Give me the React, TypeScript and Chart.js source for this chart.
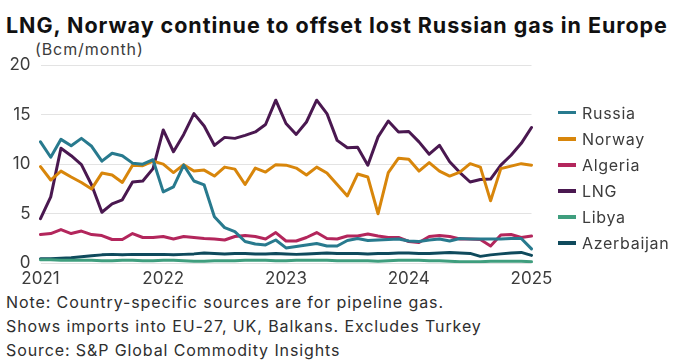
import React, { useEffect, useRef } from "react";
import { Chart, registerables } from "chart.js";

Chart.register(...registerables);

const yearLabels = ["2021", "2022", "2023", "2024", "2025"];
const monthNames = ["Jan", "Feb", "Mar", "Apr", "May", "Jun", "Jul", "Aug", "Sep", "Oct", "Nov", "Dec"];
const categories: string[] = [];
yearLabels.forEach((y, yi) => {
  monthNames.forEach((m, mi) => {
    if (yi < 4 || mi === 0) categories.push(`${m} ${y}`);
  });
});

const russia = [12.25, 10.7, 12.5, 11.85, 12.6, 11.8, 10.3, 11.1, 10.85, 10.1, 10.0, 10.45, 7.2, 7.7, 9.9, 8.3, 7.9, 4.7, 3.6, 3.2, 2.2, 1.95, 1.85, 2.35, 1.55, 1.7, 1.85, 2.0, 1.75, 1.75, 2.3, 2.5, 2.3, 2.35, 2.4, 2.45, 2.25, 2.2, 2.35, 2.45, 2.25, 2.5, 2.45, 2.45, 2.45, 2.45, 2.5, 2.5, 1.45];
const norway = [9.75, 8.4, 9.3, 8.7, 8.15, 7.5, 9.1, 8.9, 8.15, 9.9, 9.85, 10.3, 10.0, 9.15, 9.95, 9.3, 9.4, 8.8, 9.7, 9.5, 7.95, 9.6, 9.2, 9.95, 9.9, 9.6, 8.9, 9.7, 9.1, 7.95, 6.8, 9.0, 8.7, 5.0, 9.15, 10.6, 10.5, 9.3, 10.15, 9.3, 8.8, 9.2, 10.05, 9.7, 6.3, 9.55, 9.8, 10.05, 9.9];
const algeria = [2.9, 3.0, 3.4, 3.0, 3.25, 2.9, 2.8, 2.4, 2.4, 3.0, 2.6, 2.6, 2.7, 2.45, 2.7, 2.6, 2.5, 2.45, 2.35, 2.7, 2.8, 2.7, 2.45, 3.1, 2.25, 2.25, 2.6, 3.1, 2.5, 2.45, 2.75, 2.75, 2.95, 2.75, 2.6, 2.6, 2.2, 2.1, 2.7, 2.8, 2.7, 2.45, 2.45, 2.4, 1.75, 2.85, 2.9, 2.6, 2.75];
const lng = [4.5, 6.7, 11.6, 10.85, 9.95, 7.9, 5.15, 6.0, 6.4, 8.2, 8.3, 9.55, 13.45, 11.25, 13.0, 15.1, 13.85, 11.9, 12.7, 12.6, 12.9, 13.25, 14.0, 16.45, 14.1, 13.0, 14.25, 16.45, 15.1, 12.4, 11.65, 11.7, 9.9, 12.75, 14.35, 13.25, 13.3, 12.25, 11.0, 11.9, 10.25, 9.15, 8.2, 8.45, 8.5, 9.9, 10.9, 12.1, 13.7];
const libya = [0.35, 0.35, 0.3, 0.3, 0.3, 0.3, 0.25, 0.25, 0.3, 0.3, 0.25, 0.25, 0.3, 0.3, 0.25, 0.2, 0.2, 0.25, 0.25, 0.25, 0.3, 0.3, 0.3, 0.25, 0.25, 0.3, 0.3, 0.3, 0.3, 0.25, 0.25, 0.25, 0.25, 0.2, 0.25, 0.3, 0.3, 0.3, 0.25, 0.25, 0.2, 0.15, 0.15, 0.15, 0.2, 0.2, 0.2, 0.2, 0.15];
const azerbaijan = [0.45, 0.45, 0.5, 0.55, 0.65, 0.75, 0.85, 0.9, 0.85, 0.9, 0.9, 0.9, 0.9, 0.85, 0.9, 0.95, 1.05, 1.0, 0.95, 1.0, 1.0, 0.95, 0.95, 1.0, 0.95, 0.9, 0.95, 1.0, 1.05, 1.0, 1.0, 1.0, 0.95, 1.0, 1.0, 1.05, 1.05, 1.0, 1.0, 1.05, 1.1, 1.05, 1.0, 0.7, 0.85, 0.95, 1.05, 1.1, 0.8];

const seriesNames = ["Russia", "Norway", "Algeria", "LNG", "Libya", "Azerbaijan"];
const seriesData = [russia, norway, algeria, lng, libya, azerbaijan];
const seriesColors = ["#287a8e", "#d8860b", "#b3265c", "#4a1850", "#3f9e7e", "#0f4a5c"];

const yTicks = [0, 5, 10, 15, 20];

const titleText = "LNG, Norway continue to offset lost Russian gas in Europe";
const unitText = "(Bcm/month)";
const noteLines = [
  "Note: Country-specific sources are for pipeline gas.",
  "Shows imports into EU-27, UK, Balkans. Excludes Turkey",
  "Source: S&P Global Commodity Insights",
];

const FONT = "Inter, 'Noto Sans', sans-serif";

export default function App() {
  const canvasRef = useRef<HTMLCanvasElement | null>(null);

  useEffect(() => {
    const canvas = canvasRef.current;
    if (!canvas) return;
    const chart = new Chart(canvas, {
      type: "line",
      data: {
        labels: categories,
        datasets: seriesNames.map((name, i) => ({
          label: name,
          data: seriesData[i],
          borderColor: seriesColors[i],
          backgroundColor: seriesColors[i],
          borderWidth: 3,
          pointRadius: 0,
          tension: 0,
          borderJoinStyle: "round" as const,
          borderCapStyle: "round" as const,
        })),
      },
      options: {
        animation: false,
        responsive: false,
        maintainAspectRatio: false,
        layout: { padding: { top: 65, right: 144.5, left: 0, bottom: 0 } },
        plugins: {
          legend: { display: false },
          tooltip: { enabled: false },
          title: { display: false },
        },
        scales: {
          x: {
            type: "category",
            offset: false,
            grid: { display: false, drawTicks: false },
            border: { display: false },
            afterFit: (scale: any) => {
              scale.height = 26.7;
            },
            ticks: {
              autoSkip: false,
              maxRotation: 0,
              minRotation: 0,
              padding: 5,
              color: "#3c3c3c",
              font: { family: FONT, size: 17 },
              callback: (_v: any, idx: number) => (idx % 12 === 0 ? yearLabels[idx / 12] : ""),
            },
          },
          y: {
            min: yTicks[0],
            max: yTicks[yTicks.length - 1],
            grid: { color: "#e3e3e3", lineWidth: 1, drawTicks: false },
            border: { display: false },
            afterFit: (scale: any) => {
              scale.width = 40.5;
            },
            afterBuildTicks: (scale: any) => {
              scale.ticks = yTicks.map((v) => ({ value: v }));
            },
            ticks: {
              padding: 10,
              color: "#3c3c3c",
              font: { family: FONT, size: 17 },
            },
          },
        },
      },
    });
    return () => chart.destroy();
  }, []);

  return (
    <div style={{ position: "absolute", left: 0, top: 0, width: 676, height: 363, background: "#fff", fontFamily: FONT, color: "#1a1a1a" }}>
      <div style={{ position: "absolute", left: 6, top: 12, fontSize: 21.5, fontWeight: 700, whiteSpace: "nowrap", lineHeight: "26px", letterSpacing: "0.95px", color: "#111" }}>
        {titleText}
      </div>
      <div style={{ position: "absolute", left: 35, top: 39, fontSize: 16, whiteSpace: "nowrap", lineHeight: "20px", letterSpacing: "0.9px", color: "#3c3c3c" }}>
        {unitText}
      </div>
      <canvas ref={canvasRef} width={676} height={290} style={{ position: "absolute", left: 0, top: 0, width: 676, height: 290 }} />
      <div style={{ position: "absolute", left: 558, top: 0 }}>
        {seriesNames.map((name, i) => (
          <div key={name} style={{ position: "absolute", left: 0, top: 112.7 + i * 26.1 - 12, height: 24, display: "flex", alignItems: "center", whiteSpace: "nowrap" }}>
            <span style={{ display: "inline-block", width: 18, height: 3.5, background: seriesColors[i], marginRight: 6 }} />
            <span style={{ fontSize: 16, color: "#3c3c3c", letterSpacing: "0.7px" }}>{name}</span>
          </div>
        ))}
      </div>
      <div style={{ position: "absolute", left: 6, top: 290 }}>
        {noteLines.map((t) => (
          <div key={t} style={{ fontSize: 16, lineHeight: "24px", whiteSpace: "nowrap", letterSpacing: "0.9px", color: "#2e2e2e" }}>{t}</div>
        ))}
      </div>
    </div>
  );
}
